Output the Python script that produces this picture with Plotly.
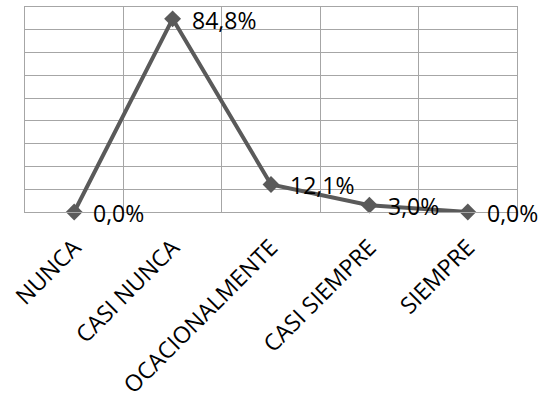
import plotly.graph_objects as go

# Response categories and their percentages
categorias = ["NUNCA", "CASI NUNCA", "OCACIONALMENTE", "CASI SIEMPRE", "SIEMPRE"]
porcentajes = [0.0, 84.8, 12.1, 3.0, 0.0]

LINE_COLOR = "#5a5a5a"
GRID_COLOR = "#a6a6a6"
FONT = "Open Sans"

fig = go.Figure()
fig.add_trace(go.Scatter(
    x=categorias,
    y=porcentajes,
    mode="lines+markers",
    line=dict(color=LINE_COLOR, width=4),
    marker=dict(symbol="diamond", size=13, color=LINE_COLOR),
    cliponaxis=False,
    showlegend=False,
))

# Data labels to the right of each point, decimal comma
for cat, val in zip(categorias, porcentajes):
    fig.add_annotation(
        x=cat, y=val,
        text=f"{val:.1f}%".replace(".", ","),
        showarrow=False,
        xanchor="left", yanchor="middle",
        xshift=17, yshift=-1,
        font=dict(family=FONT, size=23, color="#000000"),
    )

fig.update_xaxes(
    type="category",
    range=[-0.5, 4.5],
    tickson="boundaries",
    showgrid=True, gridcolor=GRID_COLOR, gridwidth=1,
    showline=True, linecolor=GRID_COLOR, linewidth=1, mirror=True,
    ticks="", tickangle=-45,
    tickfont=dict(family=FONT, size=23, color="#000000"),
    ticklabelstandoff=12,
    automargin=False,
)
fig.update_yaxes(
    range=[0, 90], dtick=10,
    showgrid=True, gridcolor=GRID_COLOR, gridwidth=1,
    showline=True, linecolor=GRID_COLOR, linewidth=1, mirror=True,
    showticklabels=False, zeroline=False, ticks="",
    automargin=False,
)

fig.update_layout(
    width=540, height=402,
    margin=dict(l=25, r=23, t=7, b=190),
    paper_bgcolor="white", plot_bgcolor="white",
    font=dict(family=FONT),
)

fig.write_html("out.html")
